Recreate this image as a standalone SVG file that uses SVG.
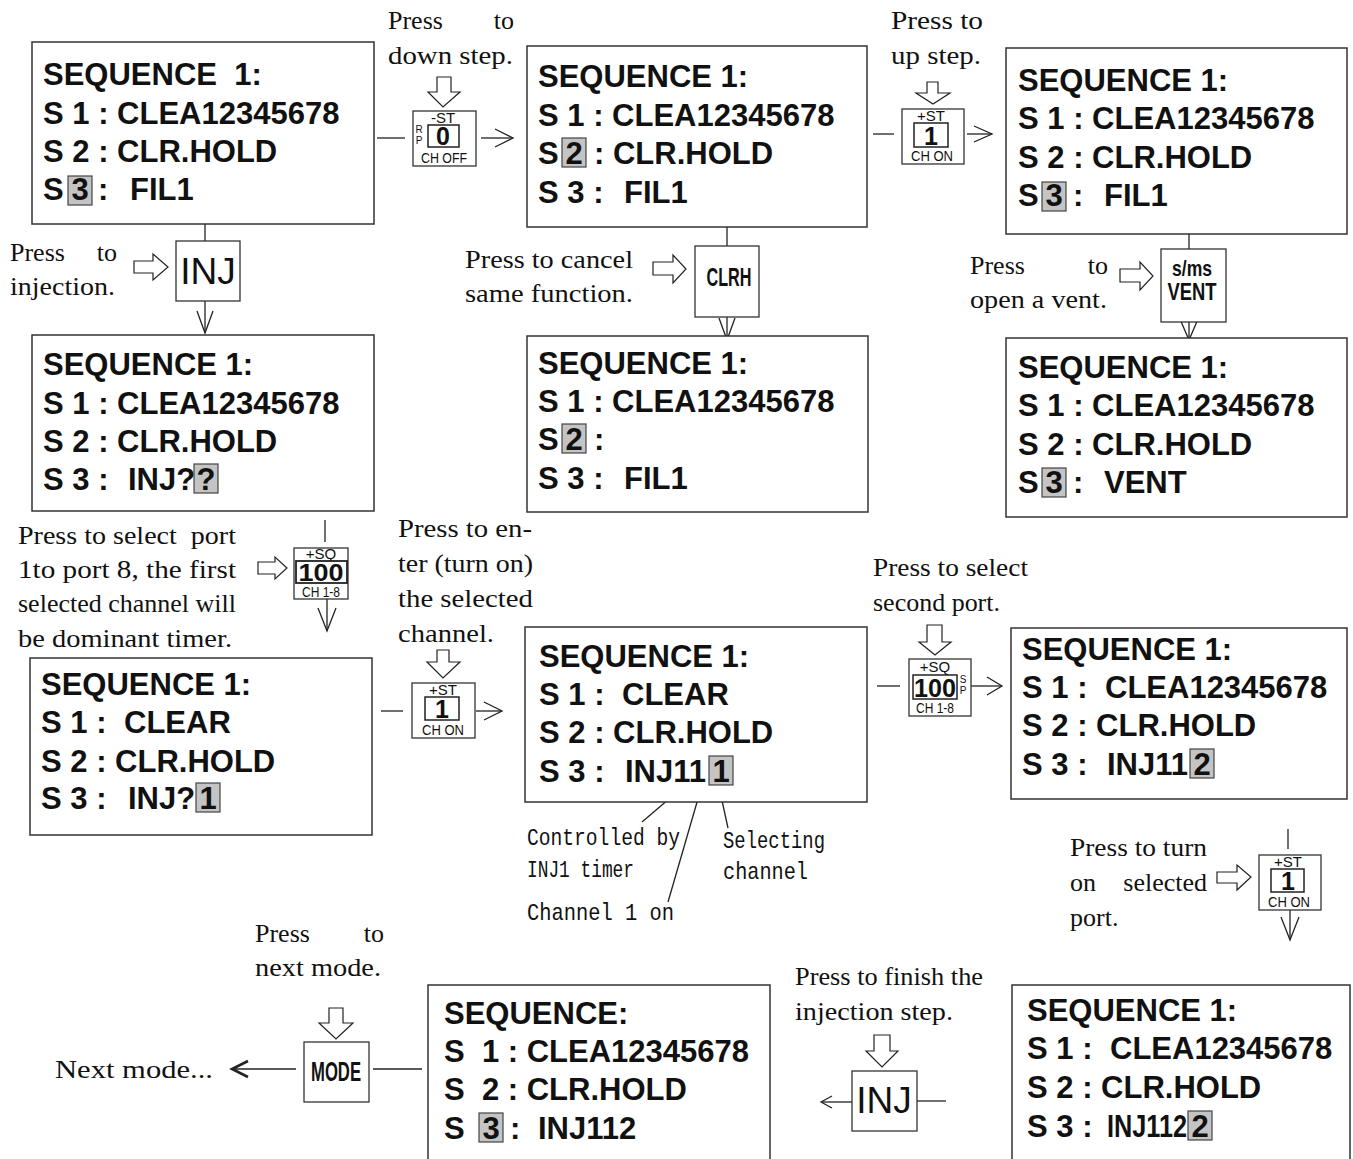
<svg xmlns="http://www.w3.org/2000/svg" width="1353" height="1159" viewBox="0 0 1353 1159">
<style>
.box{fill:#fff;stroke:#333;stroke-width:1.5}
.seq{font-family:"Liberation Sans",Arial,sans-serif;font-weight:bold;font-size:31px;fill:#111}
.hl{fill:#c4c4c4;stroke:#444;stroke-width:1.2}
.cap{font-family:"Liberation Serif","Times New Roman",serif;font-size:26px;fill:#111}
.mono{font-family:"Liberation Mono","Courier New",monospace;font-size:24px;fill:#111}
.ln{stroke:#222;stroke-width:1.3;fill:none}
.hol{fill:#fff;stroke:#222;stroke-width:1.2}
.key{fill:#fff;stroke:#333;stroke-width:1.3}
.kin{fill:#fff;stroke:#222;stroke-width:1.5}
.ks{font-family:"Liberation Sans",Arial,sans-serif;font-size:15px;fill:#111;text-anchor:middle}
.kxs{font-family:"Liberation Sans",Arial,sans-serif;font-size:10px;fill:#111;text-anchor:middle}
.kb{font-family:"Liberation Sans",Arial,sans-serif;font-weight:bold;fill:#111;text-anchor:middle}
.kr{font-family:"Liberation Sans",Arial,sans-serif;font-size:37px;fill:#111;text-anchor:middle}
</style>

<g id="connectors">
  <line class="ln" x1="377" y1="138" x2="405" y2="138"/>
  <line class="ln" x1="481" y1="138" x2="513" y2="138"/>
  <polyline class="ln" points="495,129 513,138 495,147"/>
  <line class="ln" x1="873" y1="134" x2="894" y2="134"/>
  <line class="ln" x1="967" y1="134" x2="992" y2="134"/>
  <polyline class="ln" points="974,126 992,134 974,142"/>
  <line class="ln" x1="205" y1="224" x2="205" y2="241"/>
  <line class="ln" x1="205" y1="301" x2="205" y2="333"/>
  <polyline class="ln" points="197,311 205,333 213,311"/>
  <line class="ln" x1="727" y1="227" x2="727" y2="246"/>
  <line class="ln" x1="727" y1="317" x2="727" y2="339"/>
  <polyline class="ln" points="719,318 727,340 735,318"/>
  <line class="ln" x1="1189" y1="234" x2="1189" y2="249"/>
  <line class="ln" x1="1189" y1="322" x2="1189" y2="339"/>
  <polyline class="ln" points="1180,319 1189,340 1198,319"/>
  <line class="ln" x1="325" y1="520" x2="325" y2="542"/>
  <line class="ln" x1="327" y1="599" x2="327" y2="631"/>
  <polyline class="ln" points="318,608 327,631 336,608"/>
  <line class="ln" x1="381" y1="711" x2="403" y2="711"/>
  <line class="ln" x1="476" y1="711" x2="502" y2="711"/>
  <polyline class="ln" points="484,702 502,711 484,720"/>
  <line class="ln" x1="877" y1="686" x2="900" y2="686"/>
  <line class="ln" x1="971" y1="686" x2="1002" y2="686"/>
  <polyline class="ln" points="987,677 1002,686 987,695"/>
  <line class="ln" x1="683" y1="787" x2="642" y2="822"/>
  <line class="ln" x1="702" y1="785" x2="668" y2="902"/>
  <line class="ln" x1="719" y1="787" x2="728" y2="828"/>
  <line class="ln" x1="1288" y1="829" x2="1288" y2="849"/>
  <line class="ln" x1="1290" y1="910" x2="1290" y2="940"/>
  <polyline class="ln" points="1281,917 1290,940 1299,917"/>
  <line class="ln" x1="373" y1="1069" x2="422" y2="1069"/>
  <line class="ln" x1="233" y1="1069" x2="296" y2="1069"/>
  <polyline class="ln" points="248,1061 232,1069 248,1077" style="stroke-width:2.6"/>
  <line class="ln" x1="917" y1="1101" x2="946" y2="1101"/>
  <line class="ln" x1="822" y1="1102" x2="852" y2="1102"/>
  <polyline class="ln" points="832,1096 821,1102 832,1108"/>
  <path class="hol" d="M437,77 H451 V92 H460 L443,107 L428,92 H437 Z"/>
  <path class="hol" d="M927,82 H938 V93 H950 L933,104 L916,93 H927 Z"/>
  <path class="hol" d="M437,650 H449 V662 H460 L443,678 L427,662 H437 Z"/>
  <path class="hol" d="M927,625 H942 V642 H951 L935,655 L919,642 H927 Z"/>
  <path class="hol" d="M329,1008 H343 V1023 H353 L336,1039 L319,1023 H329 Z"/>
  <path class="hol" d="M874,1035 H890 V1051 H898 L882,1067 L866,1051 H874 Z"/>
  <path class="hol" d="M134,261 H153 V254 L168,267 L153,280 V273 H134 Z"/>
  <path class="hol" d="M653,262 H673 V255 L686,269 L673,283 V275 H653 Z"/>
  <path class="hol" d="M1120,269 H1140 V262 L1153,276 L1140,290 V282 H1120 Z"/>
  <path class="hol" d="M258,562 H275 V557 L287,568 L275,579 V574 H258 Z"/>
  <path class="hol" d="M1217,872 H1237 V865 L1251,877 L1237,890 V883 H1217 Z"/>
</g>

<g id="box1">
  <rect class="box" x="32" y="42" width="342" height="182"/>
  <text class="seq" x="43" y="85" xml:space="preserve">SEQUENCE  1:</text>
  <text class="seq" x="43" y="124">S 1 : CLEA12345678</text>
  <text class="seq" x="43" y="162">S 2 : CLR.HOLD</text>
  <rect class="hl" x="68" y="176" width="24" height="29"/>
  <text class="seq" x="43" y="200">S</text>
  <text class="seq" x="80" y="200" text-anchor="middle">3</text>
  <text class="seq" x="98" y="200">:</text>
  <text class="seq" x="130" y="200">FIL1</text>
</g>

<g id="box2">
  <rect class="box" x="527" y="46" width="340" height="181"/>
  <text class="seq" x="538" y="87">SEQUENCE 1:</text>
  <text class="seq" x="538" y="126">S 1 : CLEA12345678</text>
  <rect class="hl" x="562" y="138" width="24" height="29"/>
  <text class="seq" x="538" y="164">S</text>
  <text class="seq" x="574" y="164" text-anchor="middle">2</text>
  <text class="seq" x="594" y="164">: CLR.HOLD</text>
  <text class="seq" x="538" y="203">S 3 :</text>
  <text class="seq" x="624" y="203">FIL1</text>
</g>

<g id="box3">
  <rect class="box" x="1006" y="48" width="341" height="186"/>
  <text class="seq" x="1018" y="91">SEQUENCE 1:</text>
  <text class="seq" x="1018" y="129">S 1 : CLEA12345678</text>
  <text class="seq" x="1018" y="168">S 2 : CLR.HOLD</text>
  <rect class="hl" x="1042" y="182" width="24" height="29"/>
  <text class="seq" x="1018" y="206">S</text>
  <text class="seq" x="1054" y="206" text-anchor="middle">3</text>
  <text class="seq" x="1073" y="206">:</text>
  <text class="seq" x="1104" y="206">FIL1</text>
</g>

<g id="box4">
  <rect class="box" x="32" y="335" width="342" height="176"/>
  <text class="seq" x="43" y="375">SEQUENCE 1:</text>
  <text class="seq" x="43" y="414">S 1 : CLEA12345678</text>
  <text class="seq" x="43" y="452">S 2 : CLR.HOLD</text>
  <text class="seq" x="43" y="490">S 3 :</text>
  <text class="seq" x="128" y="490">INJ?</text>
  <rect class="hl" x="194" y="464" width="24" height="29"/>
  <text class="seq" x="206" y="490" text-anchor="middle">?</text>
</g>

<g id="box5">
  <rect class="box" x="527" y="336" width="341" height="176"/>
  <text class="seq" x="538" y="374">SEQUENCE 1:</text>
  <text class="seq" x="538" y="412">S 1 : CLEA12345678</text>
  <rect class="hl" x="562" y="424" width="24" height="29"/>
  <text class="seq" x="538" y="450">S</text>
  <text class="seq" x="574" y="450" text-anchor="middle">2</text>
  <text class="seq" x="594" y="450">:</text>
  <text class="seq" x="538" y="489">S 3 :</text>
  <text class="seq" x="624" y="489">FIL1</text>
</g>

<g id="box6">
  <rect class="box" x="1006" y="338" width="341" height="179"/>
  <text class="seq" x="1018" y="378">SEQUENCE 1:</text>
  <text class="seq" x="1018" y="416">S 1 : CLEA12345678</text>
  <text class="seq" x="1018" y="455">S 2 : CLR.HOLD</text>
  <rect class="hl" x="1042" y="468" width="24" height="29"/>
  <text class="seq" x="1018" y="493">S</text>
  <text class="seq" x="1054" y="493" text-anchor="middle">3</text>
  <text class="seq" x="1073" y="493">:</text>
  <text class="seq" x="1104" y="493">VENT</text>
</g>

<g id="box7">
  <rect class="box" x="30" y="658" width="342" height="177"/>
  <text class="seq" x="41" y="695">SEQUENCE 1:</text>
  <text class="seq" x="41" y="733">S 1 :</text>
  <text class="seq" x="124" y="733">CLEAR</text>
  <text class="seq" x="41" y="772">S 2 : CLR.HOLD</text>
  <text class="seq" x="41" y="809">S 3 :</text>
  <text class="seq" x="128" y="809">INJ?</text>
  <rect class="hl" x="196" y="783" width="24" height="29"/>
  <text class="seq" x="208" y="809" text-anchor="middle">1</text>
</g>

<g id="box8">
  <rect class="box" x="525" y="627" width="342" height="175"/>
  <text class="seq" x="539" y="667">SEQUENCE 1:</text>
  <text class="seq" x="539" y="705">S 1 :</text>
  <text class="seq" x="622" y="705">CLEAR</text>
  <text class="seq" x="539" y="743">S 2 : CLR.HOLD</text>
  <text class="seq" x="539" y="782">S 3 :</text>
  <text class="seq" x="625" y="782">INJ11</text>
  <rect class="hl" x="709" y="756" width="24" height="29"/>
  <text class="seq" x="721" y="782" text-anchor="middle">1</text>
</g>

<g id="box9">
  <rect class="box" x="1011" y="628" width="336" height="171"/>
  <text class="seq" x="1022" y="660">SEQUENCE 1:</text>
  <text class="seq" x="1022" y="698">S 1 :</text>
  <text class="seq" x="1105" y="698">CLEA12345678</text>
  <text class="seq" x="1022" y="736">S 2 : CLR.HOLD</text>
  <text class="seq" x="1022" y="775">S 3 :</text>
  <text class="seq" x="1107" y="775">INJ11</text>
  <rect class="hl" x="1190" y="749" width="24" height="29"/>
  <text class="seq" x="1202" y="775" text-anchor="middle">2</text>
</g>

<g id="box10">
  <rect class="box" x="428" y="985" width="342" height="190"/>
  <text class="seq" x="444" y="1024">SEQUENCE:</text>
  <text class="seq" x="444" y="1062" xml:space="preserve">S  1 : CLEA12345678</text>
  <text class="seq" x="444" y="1100" xml:space="preserve">S  2 : CLR.HOLD</text>
  <text class="seq" x="444" y="1139">S</text>
  <rect class="hl" x="479" y="1113" width="24" height="29"/>
  <text class="seq" x="491" y="1139" text-anchor="middle">3</text>
  <text class="seq" x="510" y="1139">:</text>
  <text class="seq" x="538" y="1139">INJ112</text>
</g>

<g id="box11">
  <rect class="box" x="1012" y="985" width="338" height="190"/>
  <text class="seq" x="1027" y="1021">SEQUENCE 1:</text>
  <text class="seq" x="1027" y="1059">S 1 :</text>
  <text class="seq" x="1110" y="1059">CLEA12345678</text>
  <text class="seq" x="1027" y="1098">S 2 : CLR.HOLD</text>
  <text class="seq" x="1027" y="1137">S 3 :</text>
  <text class="seq" x="1107" y="1137" textLength="80" lengthAdjust="spacingAndGlyphs">INJ112</text>
  <rect class="hl" x="1188" y="1111" width="24" height="29"/>
  <text class="seq" x="1200" y="1137" text-anchor="middle">2</text>
</g>

<g id="key-down-step">
  <rect class="key" x="413" y="111" width="63" height="55"/>
  <text class="ks" x="443" y="123" font-size="14">-ST</text>
  <text class="kxs" x="419" y="133">R</text>
  <text class="kxs" x="419" y="144">P</text>
  <rect class="kin" x="428" y="125" width="31" height="22"/>
  <text class="kb" x="443" y="145" font-size="25">0</text>
  <text class="ks" x="444" y="163" font-size="13" textLength="46" lengthAdjust="spacingAndGlyphs">CH OFF</text>
</g>

<g id="key-up-step">
  <rect class="key" x="902" y="109" width="62" height="55"/>
  <text class="ks" x="931" y="121" font-size="14">+ST</text>
  <rect class="kin" x="914" y="123" width="34" height="24"/>
  <text class="kb" x="931" y="145" font-size="25">1</text>
  <text class="ks" x="932" y="161" font-size="13" textLength="42" lengthAdjust="spacingAndGlyphs">CH ON</text>
</g>

<g id="key-inj1">
  <rect class="key" x="176" y="241" width="64" height="60"/>
  <text class="kr" x="208" y="284">INJ</text>
</g>

<g id="key-clrh">
  <rect class="key" x="695" y="246" width="64" height="71"/>
  <text class="kb" x="729" y="286" font-size="26" textLength="45" lengthAdjust="spacingAndGlyphs">CLRH</text>
</g>

<g id="key-vent">
  <rect class="key" x="1161" y="249" width="65" height="73"/>
  <text class="kb" x="1192" y="276" font-size="22" textLength="40" lengthAdjust="spacingAndGlyphs">s/ms</text>
  <text class="kb" x="1192" y="300" font-size="24" textLength="49" lengthAdjust="spacingAndGlyphs">VENT</text>
</g>

<g id="key-100">
  <rect class="key" x="294" y="548" width="54" height="51"/>
  <text class="ks" x="321" y="559" font-size="13">+SQ</text>
  <rect class="kin" x="296" y="561" width="51" height="22" style="stroke-width:1.8"/>
  <text class="kb" x="321" y="581" font-size="24" textLength="45" lengthAdjust="spacingAndGlyphs">100</text>
  <text class="ks" x="321" y="597" font-size="12" textLength="38" lengthAdjust="spacingAndGlyphs">CH 1-8</text>
</g>

<g id="key-enter">
  <rect class="key" x="412" y="683" width="63" height="55"/>
  <text class="ks" x="443" y="695" font-size="14">+ST</text>
  <rect class="kin" x="425" y="697" width="34" height="23"/>
  <text class="kb" x="442" y="718" font-size="25">1</text>
  <text class="ks" x="443" y="735" font-size="13" textLength="42" lengthAdjust="spacingAndGlyphs">CH ON</text>
</g>

<g id="key-100sp">
  <rect class="key" x="909" y="659" width="62" height="57"/>
  <text class="ks" x="935" y="672" font-size="14">+SQ</text>
  <rect class="kin" x="913" y="675" width="44" height="24"/>
  <text class="kb" x="935" y="697" font-size="25" textLength="42" lengthAdjust="spacingAndGlyphs">100</text>
  <text class="kxs" x="963" y="683">S</text>
  <text class="kxs" x="963" y="694">P</text>
  <text class="ks" x="935" y="713" font-size="12" textLength="38" lengthAdjust="spacingAndGlyphs">CH 1-8</text>
</g>

<g id="key-turn-on">
  <rect class="key" x="1259" y="855" width="62" height="55"/>
  <text class="ks" x="1288" y="867" font-size="14">+ST</text>
  <rect class="kin" x="1271" y="869" width="33" height="23"/>
  <text class="kb" x="1288" y="890" font-size="25">1</text>
  <text class="ks" x="1289" y="907" font-size="13" textLength="42" lengthAdjust="spacingAndGlyphs">CH ON</text>
</g>

<g id="key-mode">
  <rect class="key" x="304" y="1042" width="65" height="60"/>
  <text class="kb" x="336" y="1081" font-size="28" textLength="50" lengthAdjust="spacingAndGlyphs">MODE</text>
</g>

<g id="key-inj2">
  <rect class="key" x="852" y="1071" width="65" height="60"/>
  <text class="kr" x="884" y="1113">INJ</text>
</g>

<g id="captions">
  <text class="cap" x="388" y="29">Press</text>
  <text class="cap" x="514" y="29" text-anchor="end">to</text>
  <text class="cap" x="388" y="64" textLength="125" lengthAdjust="spacingAndGlyphs">down step.</text>

  <text class="cap" x="891" y="29" textLength="92" lengthAdjust="spacingAndGlyphs">Press to</text>
  <text class="cap" x="891" y="64" textLength="90" lengthAdjust="spacingAndGlyphs">up step.</text>

  <text class="cap" x="10" y="261">Press</text>
  <text class="cap" x="117" y="261" text-anchor="end">to</text>
  <text class="cap" x="10" y="295" textLength="105" lengthAdjust="spacingAndGlyphs">injection.</text>

  <text class="cap" x="465" y="268" textLength="168" lengthAdjust="spacingAndGlyphs">Press to cancel</text>
  <text class="cap" x="465" y="302" textLength="168" lengthAdjust="spacingAndGlyphs">same function.</text>

  <text class="cap" x="970" y="274">Press</text>
  <text class="cap" x="1108" y="274" text-anchor="end">to</text>
  <text class="cap" x="970" y="308" textLength="137" lengthAdjust="spacingAndGlyphs">open a vent.</text>

  <text class="cap" x="18" y="544" textLength="218" lengthAdjust="spacingAndGlyphs" xml:space="preserve">Press to select  port</text>
  <text class="cap" x="18" y="578" textLength="218" lengthAdjust="spacingAndGlyphs">1to port 8, the first</text>
  <text class="cap" x="18" y="612" textLength="218" lengthAdjust="spacingAndGlyphs">selected channel will</text>
  <text class="cap" x="18" y="647" textLength="214" lengthAdjust="spacingAndGlyphs">be dominant timer.</text>

  <text class="cap" x="398" y="537" textLength="134" lengthAdjust="spacingAndGlyphs">Press to en-</text>
  <text class="cap" x="398" y="572" textLength="135" lengthAdjust="spacingAndGlyphs">ter (turn on)</text>
  <text class="cap" x="398" y="607" textLength="135" lengthAdjust="spacingAndGlyphs">the selected</text>
  <text class="cap" x="398" y="642" textLength="96" lengthAdjust="spacingAndGlyphs">channel.</text>

  <text class="cap" x="873" y="576" textLength="155" lengthAdjust="spacingAndGlyphs">Press to select</text>
  <text class="cap" x="873" y="611" textLength="127" lengthAdjust="spacingAndGlyphs">second port.</text>

  <text class="cap" x="1070" y="856" textLength="137" lengthAdjust="spacingAndGlyphs">Press to turn</text>
  <text class="cap" x="1070" y="891">on</text>
  <text class="cap" x="1207" y="891" text-anchor="end">selected</text>
  <text class="cap" x="1070" y="926">port.</text>

  <text class="cap" x="255" y="942">Press</text>
  <text class="cap" x="384" y="942" text-anchor="end">to</text>
  <text class="cap" x="255" y="976" textLength="126" lengthAdjust="spacingAndGlyphs">next mode.</text>

  <text class="cap" x="795" y="985" textLength="188" lengthAdjust="spacingAndGlyphs">Press to finish the</text>
  <text class="cap" x="795" y="1020" textLength="158" lengthAdjust="spacingAndGlyphs">injection step.</text>

  <text class="cap" x="55" y="1078" textLength="158" lengthAdjust="spacingAndGlyphs">Next mode...</text>

  <text class="mono" x="527" y="845" textLength="153" lengthAdjust="spacingAndGlyphs">Controlled by</text>
  <text class="mono" x="527" y="877" textLength="107" lengthAdjust="spacingAndGlyphs">INJ1 timer</text>
  <text class="mono" x="527" y="920" textLength="147" lengthAdjust="spacingAndGlyphs">Channel 1 on</text>
  <text class="mono" x="723" y="848" textLength="102" lengthAdjust="spacingAndGlyphs">Selecting</text>
  <text class="mono" x="723" y="879" textLength="85" lengthAdjust="spacingAndGlyphs">channel</text>
</g>
</svg>
